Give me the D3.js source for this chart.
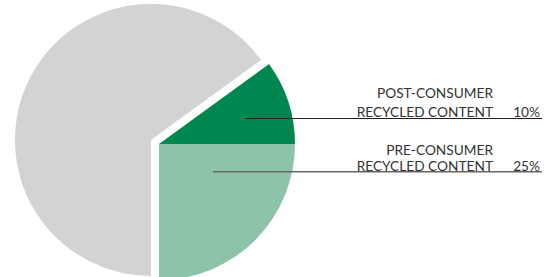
<!DOCTYPE html>
<html>
<head>
<meta charset="utf-8">
<script src="https://cdn.jsdelivr.net/npm/d3@7/dist/d3.min.js"></script>
<style>
  html, body { margin: 0; padding: 0; background: #fff; }
  svg { display: block; }
  text { font-family: Lato, "Liberation Sans", Arial, sans-serif; fill: #333; }
</style>
</head>
<body>
<svg id="chart" width="554" height="277"></svg>
<script>
// ---- data ----
const categories = ["Post-consumer recycled content", "Pre-consumer recycled content", "Other"];
const values = [10, 25, 65];
const colors = ["#00874f", "#8dc4a9", "#d1d3d4"];
const labelLine1 = ["POST-CONSUMER", "PRE-CONSUMER", null];
const labelLine2 = ["RECYCLED CONTENT", "RECYCLED CONTENT", null];
const valueLabels = ["10%", "25%", null];
const explode = [0, 0, 9];

// ---- layout ----
const W = 554, H = 277;
const cx = 159, cy = 144, R = 136;
const svg = d3.select("#chart");

const pie = d3.pie().sort(null)
  .startAngle(54 * Math.PI / 180)
  .endAngle(54 * Math.PI / 180 + 2 * Math.PI);
const arcs = pie(values);
const arc = d3.arc().innerRadius(0).outerRadius(R);

const g = svg.append("g").attr("transform", `translate(${cx},${cy})`);
g.selectAll("path").data(arcs).join("path")
  .attr("d", arc)
  .attr("fill", (d, i) => colors[i])
  .attr("transform", (d, i) => {
    const a = (d.startAngle + d.endAngle) / 2;
    return `translate(${Math.sin(a) * explode[i]},${-Math.cos(a) * explode[i]})`;
  });

// ---- labels ----
const labelCfg = [
  { lineY: 118.5, startX: 246, l1: 98, l2: 117, stroke: "#231f20", sw: 1.1 },
  { lineY: 171.7, startX: 213, l1: 154.5, l2: 170.5, stroke: "#666", sw: 1.6 }
];
const textRight = 493, valueRight = 540, lineEnd = 542, fs = 13.7;

labelCfg.forEach((c, i) => {
  svg.append("line")
    .attr("x1", c.startX).attr("x2", lineEnd)
    .attr("y1", c.lineY).attr("y2", c.lineY)
    .attr("stroke", c.stroke).attr("stroke-width", c.sw);
  svg.append("text").attr("x", textRight).attr("y", c.l1)
    .attr("text-anchor", "end").attr("font-size", fs).text(labelLine1[i]);
  svg.append("text").attr("x", textRight).attr("y", c.l2)
    .attr("text-anchor", "end").attr("font-size", fs).text(labelLine2[i]);
  svg.append("text").attr("x", valueRight).attr("y", c.l2)
    .attr("text-anchor", "end").attr("font-size", fs).text(valueLabels[i]);
});
</script>
</body>
</html>
